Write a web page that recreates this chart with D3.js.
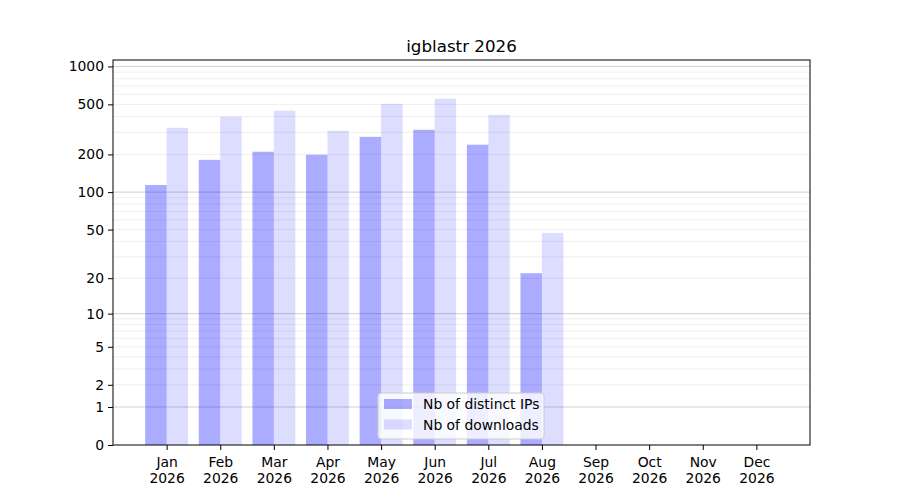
<!DOCTYPE html>
<html>
<head>
<meta charset="utf-8">
<script src="https://cdn.jsdelivr.net/npm/d3@7"></script>
<style>
  body { margin: 0; background: #fff; }
  svg { font-family: "DejaVu Sans", sans-serif; }
</style>
</head>
<body>
<div id="chart"></div>
<script>
// chart data
const months = ['Jan', 'Feb', 'Mar', 'Apr', 'May', 'Jun', 'Jul', 'Aug', 'Sep', 'Oct', 'Nov', 'Dec'];
const year = '2026';
const distinctIPs = [114, 181, 210, 199, 276, 314, 239, 22];
const downloads = [326, 399, 445, 308, 505, 554, 413, 47];
const yTicks = [0, 1, 2, 5, 10, 20, 50, 100, 200, 500, 1000];
const yMax = 1125;

const width = 900;
const height = 500;
const margin = { top: 60, right: 90, bottom: 55, left: 113 };
const fontSize = 13.9;

const svg = d3.select('#chart')
  .append('svg')
  .attr('width', width)
  .attr('height', height);

const usableArea = {
  top: margin.top,
  right: width - margin.right,
  bottom: height - margin.bottom,
  left: margin.left,
};

// x: month index, one slot either side
const xScale = d3.scaleLinear()
  .domain([-1, 12])
  .range([usableArea.left, usableArea.right]);

// y: log10(value + 1), so that 0 sits on the baseline
const logScale = d3.scaleLog()
  .domain([1, yMax + 1])
  .range([usableArea.bottom, usableArea.top]);
const yScale = (v) => logScale(v + 1);

const slot = xScale(1) - xScale(0);
const barWidth = slot * 0.4;

// gridlines: every 1..9 times each decade, decades darker
const minorValues = [];
const majorValues = [];
for (let p = 0; p <= 3; p++) {
  const base = Math.pow(10, p);
  majorValues.push(base);
  for (let m = 2; m <= 9; m++) minorValues.push(m * base);
}

const grid = svg.append('g').attr('class', 'gridlines');
grid.selectAll('line.minor')
  .data(minorValues.filter((v) => v <= yMax))
  .join('line')
  .attr('class', 'minor')
  .attr('x1', usableArea.left)
  .attr('x2', usableArea.right)
  .attr('y1', (d) => yScale(d))
  .attr('y2', (d) => yScale(d))
  .attr('stroke', '#ebebeb')
  .attr('stroke-width', 0.8);

grid.selectAll('line.major')
  .data(majorValues)
  .join('line')
  .attr('class', 'major')
  .attr('x1', usableArea.left)
  .attr('x2', usableArea.right)
  .attr('y1', (d) => yScale(d))
  .attr('y2', (d) => yScale(d))
  .attr('stroke', '#c4c4c4')
  .attr('stroke-width', 0.8);

// bars
const bars = svg.append('g').attr('class', 'bars');

bars.selectAll('rect.ips')
  .data(distinctIPs)
  .join('rect')
  .attr('class', 'ips')
  .attr('x', (d, i) => xScale(i) - barWidth)
  .attr('width', barWidth)
  .attr('y', (d) => yScale(d))
  .attr('height', (d) => yScale(0) - yScale(d))
  .attr('fill', 'blue')
  .attr('fill-opacity', 0.33);

bars.selectAll('rect.downloads')
  .data(downloads)
  .join('rect')
  .attr('class', 'downloads')
  .attr('x', (d, i) => xScale(i))
  .attr('width', barWidth)
  .attr('y', (d) => yScale(d))
  .attr('height', (d) => yScale(0) - yScale(d))
  .attr('fill', 'blue')
  .attr('fill-opacity', 0.135);

// frame
svg.append('rect')
  .attr('x', usableArea.left)
  .attr('y', usableArea.top)
  .attr('width', usableArea.right - usableArea.left)
  .attr('height', usableArea.bottom - usableArea.top)
  .attr('fill', 'none')
  .attr('stroke', '#000')
  .attr('stroke-width', 1);

// x axis
const xAxis = svg.append('g')
  .attr('transform', `translate(0, ${usableArea.bottom})`)
  .call(d3.axisBottom(xScale)
    .tickValues(d3.range(months.length))
    .tickSize(5)
    .tickPadding(4)
    .tickFormat(''));
xAxis.select('.domain').remove();
xAxis.selectAll('.tick line').attr('stroke', '#000');
xAxis.selectAll('.tick').each(function (d) {
  const t = d3.select(this).append('text')
    .attr('fill', '#000')
    .attr('font-size', fontSize)
    .attr('font-family', '"DejaVu Sans", sans-serif')
    .attr('text-anchor', 'middle');
  t.append('tspan').attr('x', 0).attr('y', 22).text(months[d]);
  t.append('tspan').attr('x', 0).attr('y', 37.5).text(year);
});

// y axis
const yAxis = svg.append('g')
  .attr('transform', `translate(${usableArea.left}, 0)`)
  .call(d3.axisLeft(logScale)
    .tickValues(yTicks.map((v) => v + 1))
    .tickSize(5)
    .tickPadding(4)
    .tickFormat((d) => String(Math.round(d - 1))));
yAxis.select('.domain').remove();
yAxis.selectAll('.tick line').attr('stroke', '#000');
yAxis.selectAll('.tick text')
  .attr('fill', '#000')
  .attr('font-size', fontSize)
  .attr('font-family', '"DejaVu Sans", sans-serif');

// title
svg.append('text')
  .attr('x', (usableArea.left + usableArea.right) / 2)
  .attr('y', usableArea.top - 8)
  .attr('text-anchor', 'middle')
  .attr('font-size', 16.7)
  .text(`igblastr ${year}`);

// legend
const legendItems = [
  { label: 'Nb of distinct IPs', opacity: 0.33 },
  { label: 'Nb of downloads', opacity: 0.135 },
];
const legend = svg.append('g').attr('transform', 'translate(378, 393)');
legend.append('rect')
  .attr('width', 166)
  .attr('height', 46)
  .attr('rx', 3)
  .attr('fill', '#fff')
  .attr('fill-opacity', 0.8)
  .attr('stroke', '#cccccc');
const item = legend.selectAll('g.item')
  .data(legendItems)
  .join('g')
  .attr('class', 'item')
  .attr('transform', (d, i) => `translate(6, ${6 + i * 20.5})`);
item.append('rect')
  .attr('width', 28)
  .attr('height', 10)
  .attr('fill', 'blue')
  .attr('fill-opacity', (d) => d.opacity);
item.append('text')
  .attr('x', 39)
  .attr('y', 10)
  .attr('font-size', fontSize)
  .text((d) => d.label);
</script>
</body>
</html>
